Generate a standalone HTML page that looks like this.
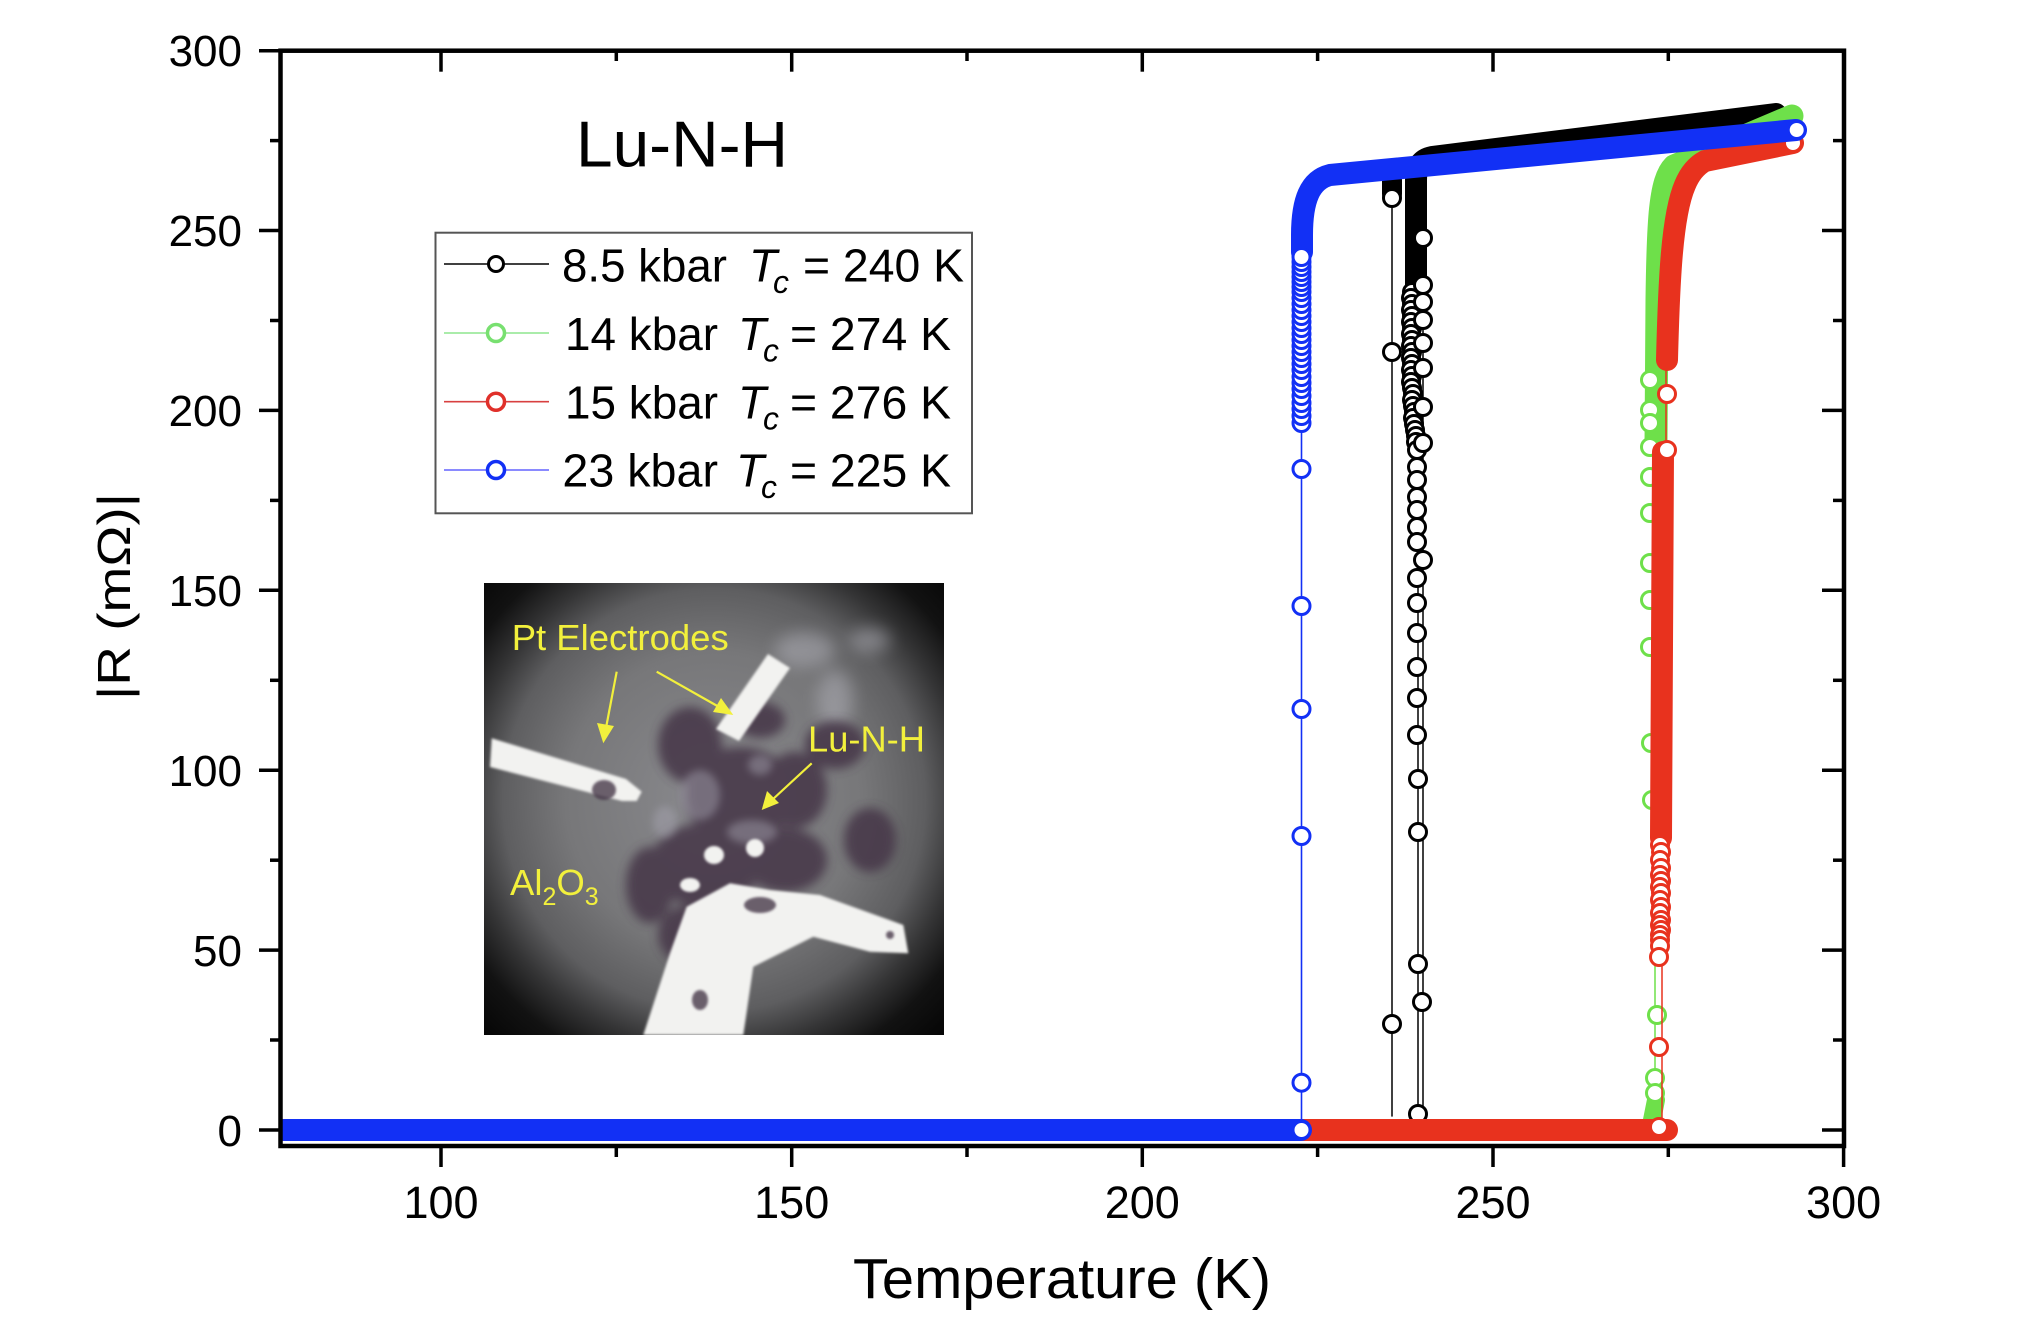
<!DOCTYPE html>
<html>
<head>
<meta charset="utf-8">
<style>
  html, body { margin:0; padding:0; background:#fff; }
  svg { display:block; }
  text { font-family: "Liberation Sans", Arial, sans-serif; }
</style>
</head>
<body>
<svg width="2022" height="1340" viewBox="0 0 2022 1340" xmlns="http://www.w3.org/2000/svg">
<rect width="2022" height="1340" fill="#fff"/>
<defs>
  <radialGradient id="vig" cx="714" cy="800" r="330" gradientUnits="userSpaceOnUse">
    <stop offset="0" stop-color="#8a8a8e"/>
    <stop offset="0.45" stop-color="#777779"/>
    <stop offset="0.64" stop-color="#5e5e60"/>
    <stop offset="0.75" stop-color="#353536"/>
    <stop offset="0.86" stop-color="#121212"/>
    <stop offset="1" stop-color="#050505"/>
  </radialGradient>
  <filter id="blur8" x="-50%" y="-50%" width="200%" height="200%"><feGaussianBlur stdDeviation="8"/></filter>
  <filter id="blur5" x="-50%" y="-50%" width="200%" height="200%"><feGaussianBlur stdDeviation="5"/></filter>
  <filter id="blur4" x="-50%" y="-50%" width="200%" height="200%"><feGaussianBlur stdDeviation="4"/></filter>
  <filter id="blur1" x="-20%" y="-20%" width="140%" height="140%"><feGaussianBlur stdDeviation="1.2"/></filter>
  <clipPath id="insetclip"><rect x="484" y="583" width="460" height="452"/></clipPath>
  <clipPath id="plotclip"><rect x="282" y="52" width="1560" height="1092"/></clipPath>
</defs>

<!-- ===== Inset photo ===== -->
<g clip-path="url(#insetclip)">
  <rect x="484" y="583" width="460" height="452" fill="url(#vig)"/>
  <!-- light streaks upper right -->
  <g fill="#b4b4bc" opacity="0.5" filter="url(#blur8)">
    <ellipse cx="805" cy="650" rx="30" ry="18"/>
    <ellipse cx="835" cy="700" rx="18" ry="30"/>
    <ellipse cx="870" cy="640" rx="20" ry="12"/>
  </g>
  <!-- purple dark sample region -->
  <g fill="#463848" opacity="0.88" filter="url(#blur5)">
    <ellipse cx="690" cy="745" rx="32" ry="38"/>
    <ellipse cx="740" cy="795" rx="55" ry="48"/>
    <ellipse cx="795" cy="790" rx="32" ry="38"/>
    <ellipse cx="705" cy="865" rx="55" ry="42"/>
    <ellipse cx="785" cy="860" rx="42" ry="32"/>
    <ellipse cx="690" cy="935" rx="32" ry="30"/>
    <ellipse cx="650" cy="885" rx="24" ry="38"/>
    <ellipse cx="835" cy="745" rx="30" ry="24"/>
    <ellipse cx="870" cy="840" rx="26" ry="32"/>
    <ellipse cx="760" cy="720" rx="25" ry="18"/>
  </g>
  <g fill="#a8a6b2" opacity="0.45" filter="url(#blur4)">
    <ellipse cx="700" cy="795" rx="20" ry="25"/>
    <ellipse cx="752" cy="832" rx="25" ry="12"/>
    <ellipse cx="665" cy="822" rx="12" ry="16"/>
    <ellipse cx="760" cy="765" rx="12" ry="10"/>
  </g>
  <!-- electrodes -->
  <g fill="#f2f2f0" filter="url(#blur1)">
    <polygon points="491.7,738.3 626,779 641.7,791.7 636.7,801 622,801 490,767"/>
    <polygon points="768,654 790,668 739,741 716,729"/>
    <polygon points="643.3,1035 670,953.3 686.7,906.7 730,883.3 770,890 820,895 903.3,925 908.3,953.3 870,951.7 813.3,936.7 753.3,966.7 743.3,1035"/>
    <ellipse cx="714" cy="855" rx="10" ry="9"/>
    <ellipse cx="755" cy="848" rx="9" ry="9"/>
    <ellipse cx="690" cy="885" rx="10" ry="7"/>
  </g>
  <g fill="#4a3b4c" opacity="0.8" filter="url(#blur1)">
    <ellipse cx="604" cy="790" rx="12" ry="10"/>
    <ellipse cx="760" cy="905" rx="16" ry="8"/>
    <ellipse cx="700" cy="1000" rx="8" ry="10"/>
    <ellipse cx="890" cy="935" rx="4" ry="4"/>
  </g>
  <!-- yellow annotations -->
  <g fill="#f2f03c" font-size="36.5">
    <text x="511.7" y="650" textLength="217" lengthAdjust="spacingAndGlyphs">Pt Electrodes</text>
    <text x="808" y="751.7" textLength="117" lengthAdjust="spacingAndGlyphs">Lu-N-H</text>
    <text x="510" y="895">Al<tspan font-size="25" dy="10">2</tspan><tspan dy="-10">O</tspan><tspan font-size="25" dy="10">3</tspan></text>
  </g>
  <g stroke="#f2f03c" stroke-width="2.2" fill="#f2f03c">
    <line x1="616.7" y1="671.7" x2="606" y2="728"/>
    <polygon points="603.3,743.3 597,723 614,726" stroke="none"/>
    <line x1="656.7" y1="671.7" x2="720" y2="707.5"/>
    <polygon points="733.3,715 713,712 721,698" stroke="none"/>
    <line x1="811.7" y1="763.3" x2="772" y2="800"/>
    <polygon points="761.7,810 767,791 779,803" stroke="none"/>
  </g>
</g>

<!-- ===== Legend ===== -->
<rect x="435.5" y="232.7" width="536.5" height="280.6" fill="#fff" stroke="#555" stroke-width="2"/>
<g stroke-width="1.6">
  <line x1="444" y1="264" x2="549" y2="264" stroke="#000"/>
  <line x1="444" y1="333" x2="549" y2="333" stroke="#8de58d"/>
  <line x1="444" y1="401.7" x2="549" y2="401.7" stroke="#d84040"/>
  <line x1="444" y1="470" x2="549" y2="470" stroke="#6464ff"/>
</g>
<circle cx="496" cy="264" r="7.5" fill="#fff" stroke="#000" stroke-width="3"/>
<circle cx="496" cy="333" r="8.5" fill="#fff" stroke="#78e070" stroke-width="3.5"/>
<circle cx="496" cy="401.7" r="8.5" fill="#fff" stroke="#e0302a" stroke-width="3.5"/>
<circle cx="496" cy="470" r="8.5" fill="#fff" stroke="#1230f5" stroke-width="3.5"/>
<g font-size="46" fill="#000">
  <text x="562" y="281.7" textLength="165" lengthAdjust="spacingAndGlyphs">8.5 kbar</text>
  <text x="749" y="281.7" font-style="italic">T</text>
  <text x="773" y="293" font-style="italic" font-size="32">c</text>
  <text x="803" y="281.7" textLength="161" lengthAdjust="spacingAndGlyphs">= 240 K</text>

  <text x="565" y="350" textLength="153" lengthAdjust="spacingAndGlyphs">14 kbar</text>
  <text x="738" y="350" font-style="italic">T</text>
  <text x="763" y="361.3" font-style="italic" font-size="32">c</text>
  <text x="790" y="350" textLength="161" lengthAdjust="spacingAndGlyphs">= 274 K</text>

  <text x="565" y="418.3" textLength="153" lengthAdjust="spacingAndGlyphs">15 kbar</text>
  <text x="738" y="418.3" font-style="italic">T</text>
  <text x="763" y="429.6" font-style="italic" font-size="32">c</text>
  <text x="790" y="418.3" textLength="161" lengthAdjust="spacingAndGlyphs">= 276 K</text>

  <text x="562.4" y="486.7" textLength="155.6" lengthAdjust="spacingAndGlyphs">23 kbar</text>
  <text x="736" y="486.7" font-style="italic">T</text>
  <text x="761" y="498" font-style="italic" font-size="32">c</text>
  <text x="790" y="486.7" textLength="161" lengthAdjust="spacingAndGlyphs">= 225 K</text>
</g>

<!-- Title -->
<text x="576" y="166.7" font-size="65" textLength="212" lengthAdjust="spacingAndGlyphs" fill="#000">Lu-N-H</text>

<!-- ===== Data ===== -->
<g clip-path="url(#plotclip)" stroke-linecap="round" stroke-linejoin="round" fill="none">
  <!-- BLACK -->
  <g stroke="#000">
    <path d="M285,1130 L1418,1130" stroke-width="22"/>
    <line x1="1392" y1="1116" x2="1392" y2="196" stroke-width="1.5"/>
    <line x1="1418" y1="1114" x2="1418" y2="290" stroke-width="1.5"/>
    <line x1="1423" y1="1110" x2="1423" y2="290" stroke-width="1.5"/>
    <path d="M1392,194 L1392,180" stroke-width="20"/>
    <path d="M1416,286 L1416,180 Q1416,160 1432,157 L1776,114" stroke-width="22"/>
  </g>
  <g fill="#fff" stroke="#000" stroke-width="3">
    <circle cx="1392" cy="198" r="8.5"/>
    <circle cx="1392" cy="352" r="8.5"/>
    <circle cx="1392" cy="1024" r="8.5"/>
    <circle cx="1412" cy="292" r="8.5"/><circle cx="1411" cy="298" r="8.5"/><circle cx="1412" cy="304" r="8.5"/>
    <circle cx="1411" cy="310" r="8.5"/><circle cx="1412" cy="316" r="8.5"/><circle cx="1411" cy="322" r="8.5"/>
    <circle cx="1412" cy="328" r="8.5"/><circle cx="1411" cy="334" r="8.5"/><circle cx="1412" cy="340" r="8.5"/>
    <circle cx="1411" cy="346" r="8.5"/><circle cx="1412" cy="352" r="8.5"/><circle cx="1411" cy="358" r="8.5"/>
    <circle cx="1412" cy="364" r="8.5"/><circle cx="1411" cy="370" r="8.5"/><circle cx="1412" cy="376" r="8.5"/>
    <circle cx="1411" cy="382" r="8.5"/><circle cx="1412" cy="388" r="8.5"/><circle cx="1413" cy="394" r="8.5"/>
    <circle cx="1412" cy="400" r="8.5"/><circle cx="1413" cy="406" r="8.5"/><circle cx="1414" cy="412" r="8.5"/>
    <circle cx="1413" cy="418" r="8.5"/><circle cx="1414" cy="424" r="8.5"/><circle cx="1415" cy="430" r="8.5"/>
    <circle cx="1416" cy="436" r="8.5"/><circle cx="1416" cy="442" r="8.5"/><circle cx="1417" cy="450" r="8.5"/>
    <circle cx="1423" cy="238" r="8.5"/>
    <circle cx="1423" cy="285" r="8.5"/>
    <circle cx="1423" cy="302" r="8.5"/>
    <circle cx="1423" cy="320" r="8.5"/>
    <circle cx="1423" cy="343" r="8.5"/>
    <circle cx="1423" cy="368" r="8.5"/>
    <circle cx="1423" cy="407" r="8.5"/>
    <circle cx="1423" cy="443" r="8.5"/>
    <circle cx="1417" cy="467" r="8.5"/>
    <circle cx="1417" cy="480" r="8.5"/>
    <circle cx="1417" cy="497" r="8.5"/>
    <circle cx="1417" cy="510" r="8.5"/>
    <circle cx="1417" cy="527" r="8.5"/>
    <circle cx="1417" cy="542" r="8.5"/>
    <circle cx="1423" cy="560" r="8.5"/>
    <circle cx="1417" cy="578" r="8.5"/>
    <circle cx="1417" cy="603" r="8.5"/>
    <circle cx="1417" cy="633" r="8.5"/>
    <circle cx="1417" cy="667" r="8.5"/>
    <circle cx="1417" cy="698" r="8.5"/>
    <circle cx="1417" cy="735" r="8.5"/>
    <circle cx="1418" cy="779" r="8.5"/>
    <circle cx="1418" cy="832" r="8.5"/>
    <circle cx="1418" cy="964" r="8.5"/>
    <circle cx="1422" cy="1002" r="8.5"/>
    <circle cx="1418" cy="1114" r="8.5"/>
  </g>

  <!-- GREEN -->
  <g stroke="#6ee04a">
    <path d="M285,1130 L1655,1130" stroke-width="22"/>
    <line x1="1655" y1="1120" x2="1655" y2="445" stroke-width="1.5"/>
    <path d="M1656,445 L1657,300 C1658,220 1660,180 1674,166 L1792,116" stroke-width="23"/>
    <path d="M1652,1120 L1656,1100" stroke-width="18"/>
  </g>
  <g fill="#fff" stroke="#6ee04a" stroke-width="3">
    <circle cx="1650" cy="380" r="8.5"/>
    <circle cx="1650" cy="410" r="8.5"/>
    <circle cx="1650" cy="423" r="8.5"/>
    <circle cx="1650" cy="447" r="8.5"/>
    <circle cx="1650" cy="477" r="8.5"/>
    <circle cx="1650" cy="513" r="8.5"/>
    <circle cx="1650" cy="563" r="8.5"/>
    <circle cx="1650" cy="600" r="8.5"/>
    <circle cx="1650" cy="647" r="8.5"/>
    <circle cx="1651" cy="743" r="8.5"/>
    <circle cx="1652" cy="800" r="8.5"/>
    <circle cx="1657" cy="1015" r="8.5"/>
    <circle cx="1655" cy="1078" r="8.5"/>
    <circle cx="1655" cy="1093" r="8.5"/>
  </g>

  <!-- RED -->
  <g stroke="#e8321e">
    <path d="M285,1130 L1667,1130" stroke-width="22"/>
    <line x1="1662" y1="1127" x2="1662" y2="450" stroke-width="1.5"/>
    <line x1="1666" y1="450" x2="1666" y2="362" stroke-width="1.5"/>
    <path d="M1663,452 L1661,838" stroke-width="22"/>
    <path d="M1667,360 C1669,280 1672,215 1685,185 Q1692,168 1705,161 L1793,143" stroke-width="22"/>
  </g>
  <g fill="#fff" stroke="#e8321e" stroke-width="3">
    <circle cx="1660" cy="845" r="8.5"/><circle cx="1661" cy="852" r="8.5"/><circle cx="1660" cy="860" r="8.5"/>
    <circle cx="1661" cy="868" r="8.5"/><circle cx="1660" cy="875" r="8.5"/><circle cx="1661" cy="881" r="8.5"/>
    <circle cx="1660" cy="887" r="8.5"/><circle cx="1661" cy="893" r="8.5"/><circle cx="1660" cy="900" r="8.5"/>
    <circle cx="1661" cy="907" r="8.5"/><circle cx="1660" cy="913" r="8.5"/><circle cx="1661" cy="920" r="8.5"/>
    <circle cx="1660" cy="925" r="8.5"/><circle cx="1661" cy="930" r="8.5"/><circle cx="1660" cy="935" r="8.5"/>
    <circle cx="1660" cy="940" r="8.5"/><circle cx="1660" cy="946" r="8.5"/>
    <circle cx="1659" cy="957" r="8.5"/>
    <circle cx="1659" cy="1047" r="8.5"/>
    <circle cx="1659" cy="1127" r="8.5"/>
    <circle cx="1667" cy="450" r="8.5"/>
    <circle cx="1667" cy="394" r="8.5"/>
    <circle cx="1793" cy="143" r="8.5"/>
  </g>

  <!-- BLUE -->
  <g stroke="#1230f5">
    <path d="M285,1130 L1301,1130" stroke-width="22"/>
    <line x1="1301.5" y1="1130" x2="1301.5" y2="250" stroke-width="1.6"/>
    <path d="M1302,252 L1302,235 C1302,200 1310,180 1330,175 L1796,130" stroke-width="22"/>
  </g>
  <g fill="#fff" stroke="#1230f5" stroke-width="3">
    <circle cx="1301.5" cy="423" r="8.5"/>
    <circle cx="1301.5" cy="416" r="8.5"/>
    <circle cx="1301.5" cy="409" r="8.5"/>
    <circle cx="1301.5" cy="403" r="8.5"/>
    <circle cx="1301.5" cy="396" r="8.5"/>
    <circle cx="1301.5" cy="389" r="8.5"/>
    <circle cx="1301.5" cy="383" r="8.5"/>
    <circle cx="1301.5" cy="377" r="8.5"/>
    <circle cx="1301.5" cy="370" r="8.5"/>
    <circle cx="1301.5" cy="364" r="8.5"/>
    <circle cx="1301.5" cy="358" r="8.5"/>
    <circle cx="1301.5" cy="352" r="8.5"/>
    <circle cx="1301.5" cy="346" r="8.5"/>
    <circle cx="1301.5" cy="340" r="8.5"/>
    <circle cx="1301.5" cy="334" r="8.5"/>
    <circle cx="1301.5" cy="328" r="8.5"/>
    <circle cx="1301.5" cy="322" r="8.5"/>
    <circle cx="1301.5" cy="316" r="8.5"/>
    <circle cx="1301.5" cy="310" r="8.5"/>
    <circle cx="1301.5" cy="304" r="8.5"/>
    <circle cx="1301.5" cy="298" r="8.5"/>
    <circle cx="1301.5" cy="292" r="8.5"/>
    <circle cx="1301.5" cy="287" r="8.5"/>
    <circle cx="1301.5" cy="282" r="8.5"/>
    <circle cx="1301.5" cy="277" r="8.5"/>
    <circle cx="1301.5" cy="272" r="8.5"/>
    <circle cx="1301.5" cy="267" r="8.5"/>
    <circle cx="1301.5" cy="262" r="8.5"/>
    <circle cx="1301.5" cy="257" r="8.5"/>
    <circle cx="1301.5" cy="469" r="8.5"/>
    <circle cx="1301.5" cy="606" r="8.5"/>
    <circle cx="1301.5" cy="709" r="8.5"/>
    <circle cx="1301.5" cy="836" r="8.5"/>
    <circle cx="1301.5" cy="1082.7" r="8.5"/>
    <circle cx="1301.5" cy="1130" r="8.5"/>
    <circle cx="1796.7" cy="130" r="8.5"/>
  </g>
</g>

<!-- ===== Axes ===== -->
<rect x="280.5" y="50.7" width="1563.5" height="1095.3" fill="none" stroke="#000" stroke-width="4.5"/>
<g stroke="#000" stroke-width="3.5">
  <!-- bottom ticks (outward) -->
  <line x1="441" y1="1146" x2="441" y2="1167"/>
  <line x1="616.3" y1="1146" x2="616.3" y2="1157"/>
  <line x1="791.7" y1="1146" x2="791.7" y2="1167"/>
  <line x1="967" y1="1146" x2="967" y2="1157"/>
  <line x1="1142.3" y1="1146" x2="1142.3" y2="1167"/>
  <line x1="1317.6" y1="1146" x2="1317.6" y2="1157"/>
  <line x1="1493" y1="1146" x2="1493" y2="1167"/>
  <line x1="1668.3" y1="1146" x2="1668.3" y2="1157"/>
  <line x1="1843.6" y1="1146" x2="1843.6" y2="1167"/>
  <!-- top ticks (inward) -->
  <line x1="441" y1="50.7" x2="441" y2="71.7"/>
  <line x1="616.3" y1="50.7" x2="616.3" y2="61"/>
  <line x1="791.7" y1="50.7" x2="791.7" y2="71.7"/>
  <line x1="967" y1="50.7" x2="967" y2="61"/>
  <line x1="1142.3" y1="50.7" x2="1142.3" y2="71.7"/>
  <line x1="1317.6" y1="50.7" x2="1317.6" y2="61"/>
  <line x1="1493" y1="50.7" x2="1493" y2="71.7"/>
  <line x1="1668.3" y1="50.7" x2="1668.3" y2="61"/>
  <!-- left ticks (outward) -->
  <line x1="280.5" y1="1130" x2="259" y2="1130"/>
  <line x1="280.5" y1="1040" x2="270" y2="1040"/>
  <line x1="280.5" y1="950.1" x2="259" y2="950.1"/>
  <line x1="280.5" y1="860.2" x2="270" y2="860.2"/>
  <line x1="280.5" y1="770.2" x2="259" y2="770.2"/>
  <line x1="280.5" y1="680.3" x2="270" y2="680.3"/>
  <line x1="280.5" y1="590.3" x2="259" y2="590.3"/>
  <line x1="280.5" y1="500.4" x2="270" y2="500.4"/>
  <line x1="280.5" y1="410.4" x2="259" y2="410.4"/>
  <line x1="280.5" y1="320.5" x2="270" y2="320.5"/>
  <line x1="280.5" y1="230.5" x2="259" y2="230.5"/>
  <line x1="280.5" y1="140.6" x2="270" y2="140.6"/>
  <line x1="280.5" y1="50.7" x2="259" y2="50.7"/>
  <!-- right ticks (inward) -->
  <line x1="1844" y1="1130" x2="1822" y2="1130"/>
  <line x1="1844" y1="1040" x2="1833" y2="1040"/>
  <line x1="1844" y1="950.1" x2="1822" y2="950.1"/>
  <line x1="1844" y1="860.2" x2="1833" y2="860.2"/>
  <line x1="1844" y1="770.2" x2="1822" y2="770.2"/>
  <line x1="1844" y1="680.3" x2="1833" y2="680.3"/>
  <line x1="1844" y1="590.3" x2="1822" y2="590.3"/>
  <line x1="1844" y1="500.4" x2="1833" y2="500.4"/>
  <line x1="1844" y1="410.4" x2="1822" y2="410.4"/>
  <line x1="1844" y1="320.5" x2="1833" y2="320.5"/>
  <line x1="1844" y1="230.5" x2="1822" y2="230.5"/>
  <line x1="1844" y1="140.6" x2="1833" y2="140.6"/>
</g>

<!-- Y tick labels -->
<g font-size="44" text-anchor="end" fill="#000">
  <text x="242" y="1146">0</text>
  <text x="242" y="966">50</text>
  <text x="242" y="786">100</text>
  <text x="242" y="606">150</text>
  <text x="242" y="426">200</text>
  <text x="242" y="246">250</text>
  <text x="242" y="66">300</text>
</g>
<!-- X tick labels -->
<g font-size="45" text-anchor="middle" fill="#000">
  <text x="441" y="1218">100</text>
  <text x="791.7" y="1218">150</text>
  <text x="1142.3" y="1218">200</text>
  <text x="1493" y="1218">250</text>
  <text x="1843.6" y="1218">300</text>
</g>

<!-- Axis titles -->
<text x="853" y="1298" font-size="57" textLength="418" lengthAdjust="spacingAndGlyphs" fill="#000">Temperature (K)</text>
<text transform="translate(130,596.5) rotate(-90)" text-anchor="middle" font-size="46" textLength="207" lengthAdjust="spacingAndGlyphs" fill="#000">|R (mΩ)|</text>
</svg>
</body>
</html>
